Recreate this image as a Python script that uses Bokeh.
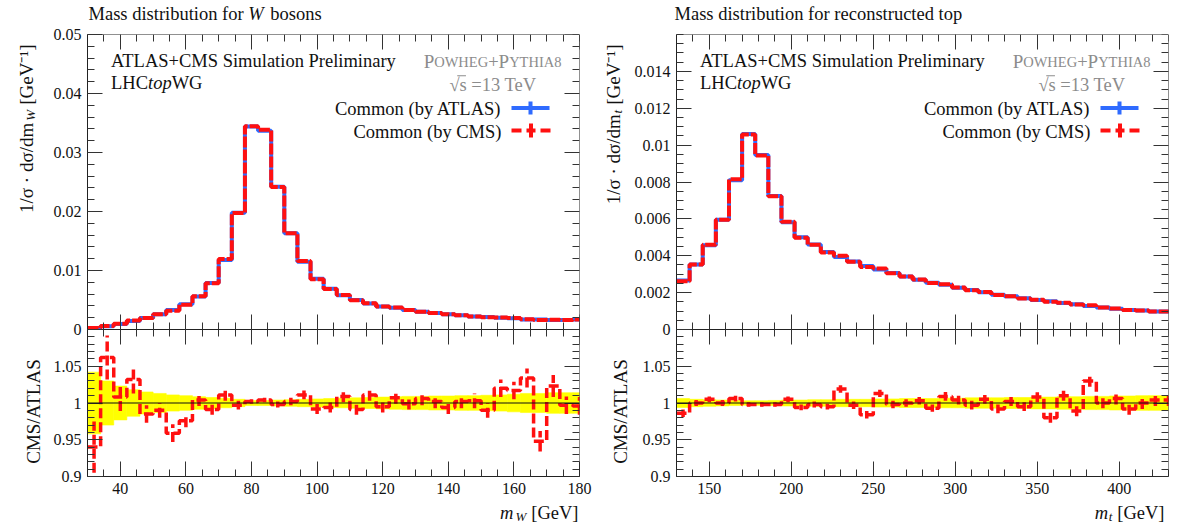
import math
from bokeh.plotting import figure
from bokeh.models import (Range1d, LinearAxis, FixedTicker, SingleIntervalTicker,
                          CustomJSTickFormatter, Label, Span, BoxAnnotation)
from bokeh.layouts import row, column
from bokeh.embed import file_html
from bokeh.resources import INLINE

# ---------------- data ----------------
w_edges = [30, 34, 38, 42, 46, 50, 54, 58, 62, 66, 70, 74, 78, 82, 86, 90, 94, 98, 102,
           106, 110, 114, 118, 122, 126, 130, 134, 138, 142, 146, 150, 154, 158, 162,
           166, 170, 174, 178, 182]
w_atlas = [0.00027, 0.00056, 0.00095, 0.00146, 0.00197, 0.0026, 0.0033, 0.0043, 0.0056,
           0.0079, 0.0118, 0.0198, 0.0344, 0.0337, 0.0242, 0.0163, 0.0115, 0.0086, 0.0069,
           0.0058, 0.0050, 0.0044, 0.0039, 0.0037, 0.0033, 0.0030, 0.0028, 0.0026, 0.0024,
           0.0022, 0.0021, 0.0020, 0.0019, 0.0017, 0.0017, 0.0016, 0.0016, 0.0017]
w_ratio = [0.94, 1.062, 1.008, 1.032, 0.985, 0.99, 0.959, 0.976, 1.004, 0.991, 1.011,
           0.997, 1.002, 1.004, 0.998, 1.002, 1.011, 0.992, 0.994, 1.009, 0.991, 1.011,
           0.995, 1.007, 0.999, 1.006, 1.002, 0.994, 1.002, 1.003, 0.99, 1.020, 1.017,
           1.034, 0.948, 1.023, 0.997, 0.996]
w_ratio_err = [0.035, 0.03, 0.019, 0.019, 0.012, 0.01, 0.012, 0.009, 0.008, 0.007, 0.008,
               0.006, 0.003, 0.003, 0.004, 0.005, 0.006, 0.007, 0.007, 0.008, 0.007, 0.008,
               0.008, 0.008, 0.008, 0.009, 0.009, 0.009, 0.009, 0.01, 0.01, 0.012, 0.012,
               0.013, 0.014, 0.015, 0.012, 0.012]
w_band = [0.042, 0.03, 0.023, 0.018, 0.015, 0.013, 0.011, 0.010, 0.0085, 0.0075, 0.0065,
          0.005, 0.0035, 0.0035, 0.004, 0.0045, 0.005, 0.0055, 0.006, 0.0065, 0.007, 0.0075,
          0.008, 0.0085, 0.009, 0.009, 0.0095, 0.0095, 0.01, 0.01, 0.0105, 0.011, 0.012,
          0.013, 0.013, 0.014, 0.014, 0.014]

t_edges = [130, 138, 146, 154, 162, 170, 178, 186, 194, 202, 210, 218, 226, 234, 242, 250,
           258, 266, 274, 282, 290, 298, 306, 314, 322, 330, 338, 346, 354, 362, 370, 378,
           386, 394, 402, 410, 418, 426, 434]
t_atlas = [0.00266, 0.00353, 0.00457, 0.00595, 0.0081, 0.0106, 0.00946, 0.00724, 0.00582,
           0.0050, 0.00461, 0.0042, 0.00393, 0.00369, 0.00344, 0.00326, 0.00306, 0.00288,
           0.0027, 0.00254, 0.00243, 0.00227, 0.00214, 0.00202, 0.00189, 0.0018, 0.00169,
           0.0016, 0.00153, 0.00144, 0.00137, 0.00128, 0.0012, 0.00113, 0.00106, 0.00103,
           0.00097, 0.00097]
t_ratio = [0.986, 1.0, 1.005, 1.0, 1.006, 0.998, 0.998, 0.998, 1.005, 0.994, 0.998, 0.995,
           1.019, 0.997, 0.984, 1.013, 0.998, 1.0, 1.003, 0.993, 1.009, 1.004, 0.997, 1.005,
           0.992, 1.002, 0.995, 1.008, 0.98, 1.01, 0.989, 1.03, 1.0, 1.006, 0.992, 1.0,
           1.004, 1.004]
t_ratio_err = [0.005, 0.004, 0.004, 0.004, 0.004, 0.003, 0.003, 0.003, 0.004, 0.004, 0.004,
               0.004, 0.005, 0.005, 0.005, 0.005, 0.005, 0.005, 0.005, 0.005, 0.006, 0.006,
               0.006, 0.006, 0.006, 0.006, 0.006, 0.007, 0.007, 0.007, 0.007, 0.008, 0.007,
               0.008, 0.008, 0.008, 0.008, 0.008]
t_band = [0.006, 0.005, 0.0045, 0.004, 0.0035, 0.003, 0.003, 0.0035, 0.004, 0.004, 0.0045,
          0.0045, 0.005, 0.005, 0.005, 0.0055, 0.0055, 0.006, 0.006, 0.006, 0.0065, 0.0065,
          0.007, 0.007, 0.007, 0.0075, 0.0075, 0.008, 0.008, 0.0085, 0.0085, 0.009, 0.009,
          0.0095, 0.0095, 0.01, 0.01, 0.01]

w_main_ticks = [0, 0.01, 0.02, 0.03, 0.04, 0.05]
t_main_ticks = [0, 0.002, 0.004, 0.006, 0.008, 0.01, 0.012, 0.014]
ratio_ticks = [0.9, 0.95, 1.0, 1.05]

# ---------------- style / layout ----------------
FONT = "Liberation Serif"
BLUE = "#2f6bff"
RED = "#ff1010"
YELLOW = "#ffff00"
GRAY = "#8c8c8c"
FW, FH_MAIN, FH_RATIO = 492, 295, 147
FH = FH_MAIN + FH_RATIO
TOP_STRIP, PLOT_TOP, PLOT_BOT, BOT_STRIP = 25, 9, 25, 22
PLOT_H = PLOT_TOP + FH + PLOT_BOT
TXT = 18.5

_TW = {' ': .25, '!': .333, '(': .333, ')': .333, '+': .564, '.': .25, '/': .278,
       '=': .564, '[': .333, ']': .333, '·': .25, 'σ': .55, '√': .55, '⁻': .33, '¹': .3}
_UP = dict(zip("ABCDEFGHIJKLMNOPQRSTUVWXYZ",
               [.722, .667, .667, .722, .611, .556, .722, .722, .333, .389, .722, .611, .889,
                .722, .722, .556, .722, .667, .556, .611, .722, .722, .944, .722, .722, .611]))
_LO = dict(zip("abcdefghijklmnopqrstuvwxyz",
               [.444, .5, .444, .5, .444, .333, .5, .5, .278, .278, .5, .278, .778, .5, .5,
                .5, .5, .333, .389, .278, .5, .5, .722, .5, .5, .444]))


def tw(s, size):
    tot = 0.0
    for c in s:
        tot += _TW.get(c, _UP.get(c, _LO.get(c, 0.5)))
    return tot * size


def lab(p, x, y, text, size=TXT, align="left", color="#111111", style="normal",
        angle=0.0):
    p.add_layout(Label(x=x, y=y, x_units="screen", y_units="screen", text=text,
                       text_font=FONT, text_font_size=f"{size}px", text_align=align,
                       text_baseline="middle", text_color=color, text_font_style=style,
                       angle=angle))


def box(p, l, r, b, t, color):
    p.add_layout(BoxAnnotation(left=l, right=r, bottom=b, top=t, left_units="screen",
                               right_units="screen", bottom_units="screen",
                               top_units="screen", fill_color=color, fill_alpha=1.0,
                               line_color=None, level="overlay"))


def style_axis(ax, labels=True, fmt=None):
    ax.axis_line_color = "#222222"
    ax.axis_line_width = 1
    ax.major_tick_line_color = "#333333"
    ax.minor_tick_line_color = "#333333"
    ax.major_tick_in = 15
    ax.major_tick_out = 0
    ax.minor_tick_in = 7
    ax.minor_tick_out = 0
    ax.major_label_text_font = FONT
    ax.major_label_text_font_size = "16px"
    ax.major_label_standoff = 6
    ax.formatter = fmt if fmt is not None else CustomJSTickFormatter(
        code="return Number(tick.toFixed(6)).toString();")
    ax.major_label_text_color = "#111111" if labels else None


def strip(w, h):
    s = figure(frame_width=w, frame_height=h, x_range=Range1d(0, 1), y_range=Range1d(0, 1),
               x_axis_location=None, y_axis_location=None, toolbar_location=None,
               output_backend="svg", min_border_left=0, min_border_right=0,
               min_border_top=0, min_border_bottom=0, outline_line_color=None,
               background_fill_color="white", border_fill_color="white")
    s.grid.visible = False
    return s


def build(edges, atlas, ratio, rerr, band, xr, main_hi, x_int, x_minor, main_ticks,
          main_minor, ystrip, plot_left, br, title_parts, sub, ylab_x, rlab_x):
    panel_w = ystrip + plot_left + FW + br
    main_lo = -main_hi * FH_RATIO / FH_MAIN
    rat_lo, rat_hi = 0.9, 0.9 + 0.2 * FH / FH_RATIO

    p = figure(frame_width=FW, frame_height=FH, x_range=Range1d(*xr),
               y_range=Range1d(main_lo, main_hi), x_axis_location=None,
               y_axis_location=None, toolbar_location=None, output_backend="svg",
               min_border_left=plot_left, min_border_right=br, min_border_top=PLOT_TOP,
               min_border_bottom=PLOT_BOT, outline_line_color=None,
               background_fill_color="white", border_fill_color="white")
    p.extra_y_ranges = {"ratio": Range1d(rat_lo, rat_hi)}
    p.grid.visible = False

    # ---- one vertical axis carries both panels' ticks (ratio ticks mapped to the frame)
    def to_main(r):
        return main_lo + (r - rat_lo) / (rat_hi - rat_lo) * (main_hi - main_lo)

    rminor = [round(0.9 + 0.01 * i, 2) for i in range(20)]
    y_major = list(main_ticks) + [to_main(r) for r in ratio_ticks]
    y_minor = list(main_minor) + [to_main(r) for r in rminor]
    yt = FixedTicker(ticks=y_major, minor_ticks=y_minor)
    yfmt = CustomJSTickFormatter(
        args=dict(lo=main_lo, hi=main_hi, rlo=rat_lo, rhi=rat_hi),
        code="""
        if (tick < -1e-12) {
            const r = rlo + (tick - lo) / (hi - lo) * (rhi - rlo);
            return Number(r.toFixed(3)).toString();
        }
        return Number(tick.toFixed(6)).toString();
        """)
    xt = SingleIntervalTicker(interval=x_int, num_minor_ticks=x_minor)

    a = LinearAxis(ticker=yt)
    style_axis(a, True, yfmt)
    p.add_layout(a, "left")
    a = LinearAxis(ticker=yt, fixed_location=xr[1])
    style_axis(a, False)
    p.add_layout(a, "right")
    a = LinearAxis(ticker=xt, fixed_location=main_hi)
    style_axis(a, False)
    p.add_layout(a, "above")
    a = LinearAxis(ticker=xt, fixed_location=0)
    style_axis(a, False)
    p.add_layout(a, "above")
    a = LinearAxis(ticker=xt, fixed_location=0)
    style_axis(a, False)
    p.add_layout(a, "below")
    a = LinearAxis(ticker=xt)
    style_axis(a)
    p.add_layout(a, "below")

    # ---- main distributions
    cms = [v * r for v, r in zip(atlas, ratio)]
    p.step(x=edges, y=atlas + [atlas[-1]], mode="after", line_color=BLUE, line_width=4)
    p.step(x=edges, y=cms + [cms[-1]], mode="after", line_color=RED, line_width=4,
           line_dash="11 2")

    # ---- ratio
    lefts, rights = edges[:-1], edges[1:]
    p.quad(left=lefts, right=rights, bottom=[1 - b for b in band],
           top=[1 + b for b in band], fill_color=YELLOW, line_color=YELLOW,
           line_width=0.6, y_range_name="ratio")
    p.add_layout(Span(location=1.0, dimension="width", line_color="#111111",
                      line_width=1, y_range_name="ratio"))
    centers = [(l + r) / 2 for l, r in zip(lefts, rights)]
    p.step(x=edges, y=ratio + [ratio[-1]], mode="after", line_color=RED, line_width=3.5,
           line_dash="10 4", y_range_name="ratio")
    p.segment(x0=centers, y0=[r - e for r, e in zip(ratio, rerr)], x1=centers,
              y1=[r + e for r, e in zip(ratio, rerr)], line_color=RED, line_width=3.5,
              line_dash="10 4", y_range_name="ratio")

    # ---- in-frame texts (y measured from the frame bottom)
    def fy(page_y):
        return FH - (page_y - (TOP_STRIP + PLOT_TOP))

    lab(p, 23.5, fy(60), "ATLAS+CMS Simulation Preliminary")
    xx = 23.5
    for txt, st in (("LHC", "normal"), ("top", "italic"), ("WG", "normal")):
        lab(p, xx, fy(82), txt, style=st)
        xx += tw(txt, TXT)
    xr_ = FW - 18
    for txt, sz in (("YTHIA8", 14.5), ("P", 19), ("+", 18.5), ("OWHEG", 14.5), ("P", 19)):
        lab(p, xr_, fy(61), txt, size=sz, align="right", color=GRAY)
        xr_ -= tw(txt, sz)
    sq = "√s =13 TeV"
    lab(p, FW - 43, fy(84), sq, color=GRAY, align="right")
    sx0 = FW - 43 - tw(sq, TXT)
    box(p, sx0 + tw("√", TXT) - 1, sx0 + tw("√s", TXT) + 0.5, fy(84) + 8.2, fy(84) + 9.2,
        GRAY)
    lab(p, FW - 78, fy(108), "Common (by ATLAS)", align="right")
    lab(p, FW - 78, fy(131), "Common (by CMS)", align="right")
    ya = fy(107.5)
    box(p, FW - 68, FW - 30, ya - 2, ya + 2, BLUE)
    box(p, FW - 51, FW - 47, ya - 6.5, ya + 6.5, BLUE)
    yc = fy(130)
    for x0, x1 in ((-68, -58), (-53, -44), (-39, -29)):
        box(p, FW + x0, FW + x1, yc - 2, yc + 2, RED)
    box(p, FW - 50.5, FW - 46.5, yc - 7, yc + 7, RED)

    # ---- title strip
    ts = strip(panel_w, TOP_STRIP)
    x0 = ystrip + plot_left + 1
    for txt, st, gap in title_parts:
        lab(ts, x0, TOP_STRIP - 13, txt, size=TXT, style=st)
        x0 += tw(txt, TXT) + gap

    # ---- y-title strip
    ys = strip(ystrip, PLOT_H)

    def sy(page_y):
        return PLOT_H - (page_y - TOP_STRIP)

    top = sy(35)
    tail = "[GeV⁻¹]"
    lab(ys, ylab_x, top, tail, size=19, align="right", angle=math.pi / 2)
    ysub = top - tw(tail, 19) - 5
    lab(ys, ylab_x + 4, ysub, sub, size=13, align="right", angle=math.pi / 2,
        style="italic")
    lab(ys, ylab_x, ysub - tw(sub, 13) - 0.5, "1/σ · dσ/dm", size=19, align="right",
        angle=math.pi / 2)
    lab(ys, rlab_x, sy(402), "CMS/ATLAS", size=19, align="center", angle=math.pi / 2)

    # ---- x-title strip
    bs = strip(panel_w, BOT_STRIP)
    xe = ystrip + plot_left + FW - 1
    tail = "[GeV]"
    lab(bs, xe, BOT_STRIP - 11, tail, size=TXT, align="right")
    xe -= tw(tail, TXT) + 5
    lab(bs, xe, BOT_STRIP - 15, sub, size=13, align="right", style="italic")
    xe -= tw(sub, 13) + 0.5
    lab(bs, xe, BOT_STRIP - 11, "m", size=TXT, align="right", style="italic")

    return column(ts, row(ys, p), bs)


w_minor = [round(0.002 * i, 3) for i in range(26)]
t_minor = [round(0.0005 * i, 4) for i in range(33)]

left = build(w_edges, w_atlas, w_ratio, w_ratio_err, w_band, (30, 180), 0.05, 20, 4,
             w_main_ticks, w_minor, 44, 43, 14,
             [("Mass distribution for", "normal", 4.6), ("W", "italic", 4.6),
              ("bosons", "normal", 0)], "W", 25.5, 33)
right = build(t_edges, t_atlas, t_ratio, t_ratio_err, t_band, (130, 430), 0.016, 50, 5,
              t_main_ticks, t_minor, 38, 42, 14,
              [("Mass distribution for reconstructed top", "normal", 0)], "t", 19.5, 27)

page = row(left, right)
open("out.html", "w").write(file_html(page, INLINE))
